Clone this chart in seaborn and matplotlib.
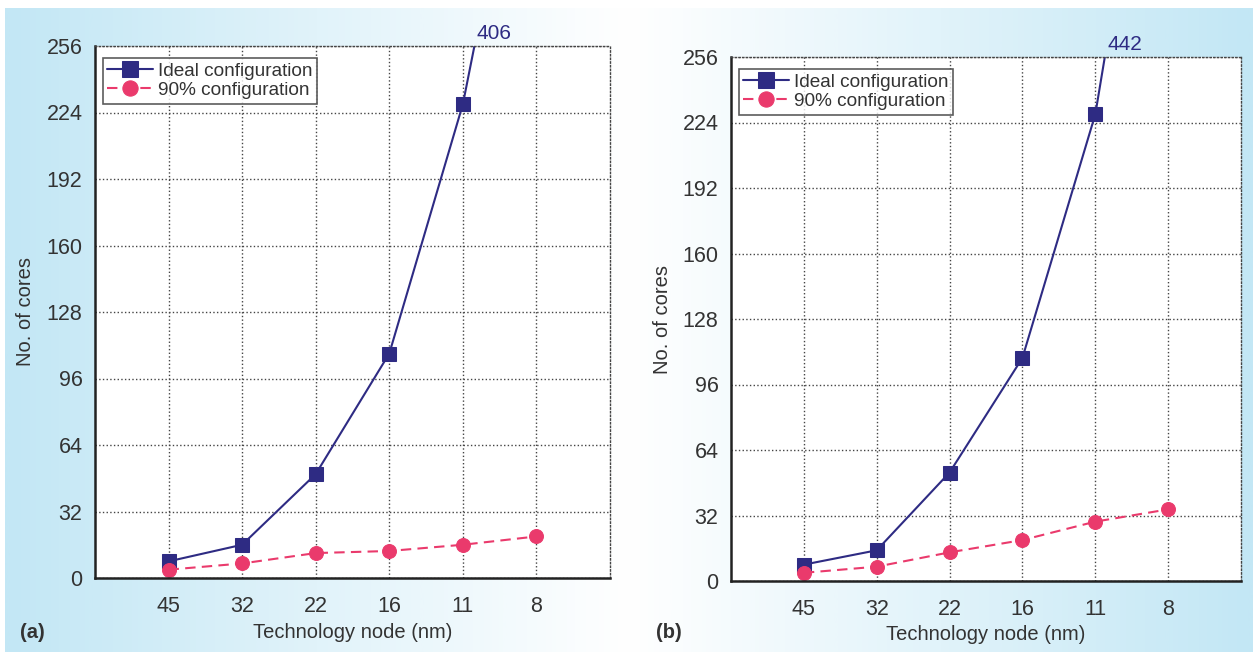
import numpy as np
import pandas as pd
import matplotlib
matplotlib.use('Agg')
import matplotlib.pyplot as plt
import seaborn as sns
from matplotlib.colors import LinearSegmentedColormap

sns.set_theme(style='white')
plt.rcParams['font.family'] = ['Liberation Sans', 'DejaVu Sans']

# data
nodes = ['45', '32', '22', '16', '11', '8']
ideal_a = [8, 16, 50, 108, 228, 406]
conf90_a = [4, 7, 12, 13, 16, 20]
ideal_b = [8, 15, 53, 109, 228, 442]
conf90_b = [4, 7, 14, 20, 29, 35]
yticks = [0, 32, 64, 96, 128, 160, 192, 224, 256]

navy = '#2e2b83'
pink = '#ea3a6c'
blue_bg = '#c3e7f5'
txt = '#333333'
ymax = 256

fig = plt.figure(figsize=(12.53, 6.52), dpi=100)

# gradient background: blue at outer edges, white in the middle
bg = fig.add_axes([0, 0, 1, 1], zorder=-10)
cmap = LinearSegmentedColormap.from_list('bg', [blue_bg, '#ffffff', blue_bg])
grad = np.linspace(0, 1, 600).reshape(1, -1)
bg.imshow(grad, cmap=cmap, aspect='auto', extent=[5 / 1253, 1, 0, 1 - 8 / 652])
bg.set_xlim(0, 1)
bg.set_ylim(0, 1)
bg.axis('off')

panels = [
    ('(a)', ideal_a, conf90_a, [95 / 1253, 1 - 578 / 652, 515 / 1253, 532 / 652]),
    ('(b)', ideal_b, conf90_b, [731 / 1253, 1 - 581 / 652, 510 / 1253, 524 / 652]),
]

for tag, ideal, conf90, rect in panels:
    ax = fig.add_axes(rect)
    ax.set_facecolor('white')
    df = pd.DataFrame({'node': nodes, 'ideal': ideal, 'conf90': conf90})
    sns.lineplot(data=df, x='node', y='ideal', ax=ax, color=navy, marker='s',
                 markersize=10, markeredgecolor=navy, linewidth=1.5,
                 label='Ideal configuration', sort=False)
    sns.lineplot(data=df, x='node', y='conf90', ax=ax, color=pink, marker='o',
                 markersize=10, markeredgecolor=pink, linewidth=1.5,
                 linestyle=(0, (5, 3)), label='90% configuration', sort=False)
    ax.set_xlim(-1, 6)
    ax.set_ylim(0, ymax)
    ax.set_yticks(yticks)
    ax.tick_params(axis='y', length=0, labelsize=15.5, labelcolor=txt, pad=9)
    ax.tick_params(axis='x', length=0, labelsize=15.5, labelcolor=txt, pad=13)
    ax.grid(True, linestyle=':', color='#444444', linewidth=1)
    for s in ['top', 'right']:
        ax.spines[s].set_linestyle(':')
        ax.spines[s].set_color('#444444')
        ax.spines[s].set_linewidth(1)
    for s in ['left', 'bottom']:
        ax.spines[s].set_color('#222222')
        ax.spines[s].set_linewidth(1.8)
    h_px = rect[3] * 652
    w_px = rect[2] * 1253
    ax.set_xlabel('Technology node (nm)', fontsize=14.5, color=txt, va='center')
    ax.xaxis.set_label_coords(0.5, -54 / h_px)
    ax.set_ylabel('No. of cores', fontsize=14.5, color=txt, va='center')
    ax.yaxis.set_label_coords(-69 / w_px, 0.5)
    # off-scale value, written where the line leaves the top of the axes
    x_exit = 4 + (ymax - ideal[4]) / (ideal[5] - ideal[4])
    ax.text(x_exit + 0.03, ymax + 1.5, str(ideal[-1]), color=navy, fontsize=15,
            ha='left', va='bottom')
    leg = ax.legend(loc='upper left', bbox_to_anchor=(0.015, 0.978), fontsize=13.7,
                    frameon=True, fancybox=False, edgecolor='#333333',
                    handlelength=2.4, handletextpad=0.25, borderpad=0.25,
                    labelspacing=0.1, borderaxespad=0, markerscale=1.1)
    leg.get_frame().set_linewidth(1.2)
    for t in leg.get_texts():
        t.set_color(txt)
    fig.text(rect[0] - 75 / 1253, 1 - 632 / 652, tag, fontsize=14.5,
             fontweight='bold', color=txt, ha='left', va='center')

fig.savefig('out.png', dpi=100)
